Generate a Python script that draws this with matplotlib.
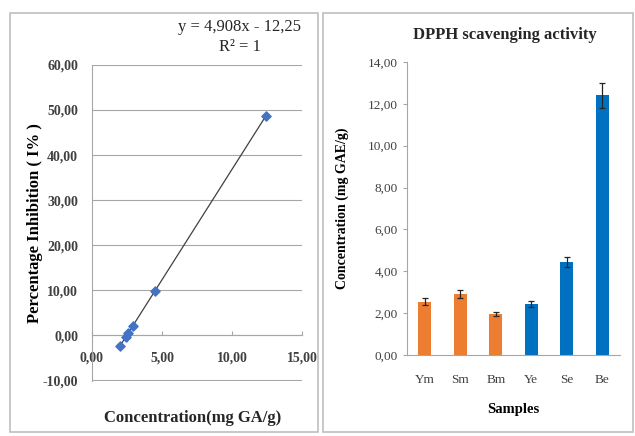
import numpy as np
import matplotlib
matplotlib.use('Agg')
import matplotlib.pyplot as plt
from matplotlib.patches import Rectangle
from matplotlib.ticker import FuncFormatter

# Calibration curve (left)
conc_std = [2.0, 2.4, 2.6, 2.9, 4.5, 12.4]
inhibition = [-2.4, -0.5, 0.5, 2.0, 9.8, 48.6]

# DPPH scavenging activity (right)
samples = ['Ym', 'Sm', 'Bm', 'Ye', 'Se', 'Be']
activity = [2.55, 2.9, 1.95, 2.45, 4.45, 12.4]
activity_err = [0.15, 0.2, 0.1, 0.15, 0.25, 0.6]
bar_colors = ['#ED7D31', '#ED7D31', '#ED7D31', '#0070C0', '#0070C0', '#0070C0']

plt.rcParams['font.family'] = ['Liberation Serif', 'DejaVu Serif']

def comma_fmt(v, pos):
    return f'{v:.2f}'.replace('.', ',')

W, H = 635, 436
fig = plt.figure(figsize=(W / 100, H / 100), dpi=100)

# panel frames
for x0, x1 in [(10, 318), (323, 633)]:
    fig.patches.append(Rectangle((x0 / W, 1 - 432 / H), (x1 - x0) / W, (432 - 13) / H,
                                 transform=fig.transFigure, fill=False,
                                 edgecolor='#bfbfbf', linewidth=1.2))

# left panel
ax1 = fig.add_axes([92 / W, 1 - 381 / H, 210 / W, 316 / H])
ax1.scatter(conc_std, inhibition, marker='D', s=22, color='#4472C4', zorder=3)
m, c = np.polyfit(conc_std, inhibition, 1)
xs = np.array([min(conc_std), max(conc_std)])
ax1.plot(xs, m * xs + c, color='#404040', linewidth=0.9, zorder=2)
ax1.set_xlim(0, 15)
ax1.set_ylim(-10.2, 60)
ax1.set_xticks([0, 5, 10, 15])
ax1.set_yticks(range(-10, 61, 10))
ax1.xaxis.set_major_formatter(FuncFormatter(comma_fmt))
ax1.yaxis.set_major_formatter(FuncFormatter(comma_fmt))
ax1.grid(axis='y', color='#a6a6a6', linewidth=0.8)
ax1.set_axisbelow(True)
ax1.spines['bottom'].set_position(('data', 0))
for s in ['top', 'right']:
    ax1.spines[s].set_visible(False)
ax1.spines['left'].set_color('#a6a6a6')
ax1.spines['bottom'].set_color('#a6a6a6')
ax1.tick_params(axis='y', length=0, labelsize=10, colors='#404040', pad=10)
ax1.tick_params(axis='x', length=3, direction='in', color='#a6a6a6',
                labelsize=10, labelcolor='#404040', pad=12)
for lab in ax1.get_xticklabels() + ax1.get_yticklabels():
    lab.set_fontweight('bold')
ax1.set_ylabel('Percentage Inhibition ( I% )', fontsize=12, fontweight='bold', labelpad=0)
fig.text(193 / W, 1 - 418 / H, 'Concentration(mg GA/g)', fontsize=12,
         fontweight='bold', ha='center', va='center', color='#262626')
fig.text(240 / W, 1 - 27 / H, 'y = 4,908x - 12,25', fontsize=12,
         ha='center', va='center', color='#262626')
fig.text(240 / W, 1 - 47 / H, 'R² = 1', fontsize=12,
         ha='center', va='center', color='#262626')

# right panel
ax2 = fig.add_axes([407 / W, 1 - 355 / H, 213 / W, 293 / H])
pos = np.arange(len(samples))
ax2.bar(pos, activity, width=0.38, color=bar_colors, yerr=activity_err,
        error_kw=dict(ecolor='#262626', capsize=2.5, elinewidth=0.9, capthick=0.9))
ax2.set_xlim(-0.5, len(samples) - 0.5)
ax2.set_ylim(0, 14)
ax2.set_yticks(range(0, 15, 2))
ax2.yaxis.set_major_formatter(FuncFormatter(comma_fmt))
ax2.set_xticks(pos)
ax2.set_xticklabels(samples)
for s in ['top', 'right']:
    ax2.spines[s].set_visible(False)
ax2.spines['left'].set_color('#a6a6a6')
ax2.spines['bottom'].set_color('#a6a6a6')
ax2.tick_params(axis='y', length=3, color='#a6a6a6', labelsize=9.5, labelcolor='#404040')
ax2.tick_params(axis='x', length=0, labelsize=9.5, labelcolor='#404040', pad=14)
ax2.set_ylabel('Concentration (mg GAE/g)', fontsize=10, fontweight='bold', labelpad=14)
ax2.set_xlabel('Samples', fontsize=10.5, fontweight='bold', labelpad=12)
fig.text(505 / W, 1 - 35 / H, 'DPPH scavenging activity', fontsize=12,
         fontweight='bold', ha='center', va='center', color='#262626')

fig.savefig('out.png', dpi=100)
